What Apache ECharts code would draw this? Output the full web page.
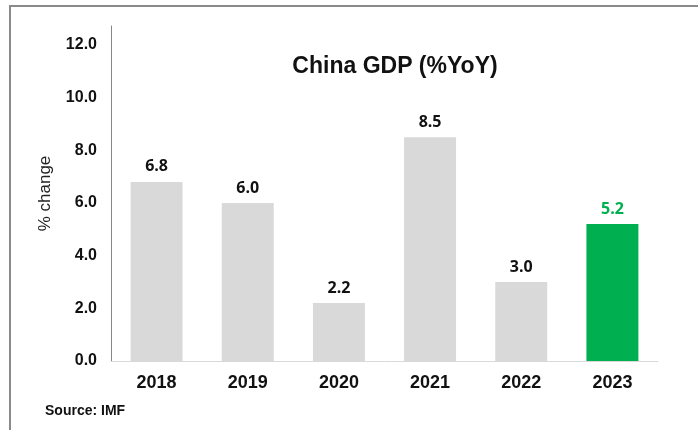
<!DOCTYPE html>
<html>
<head>
<meta charset="utf-8">
<script src="https://cdn.jsdelivr.net/npm/echarts@6/dist/echarts.min.js"></script>
<style>html,body{margin:0;padding:0;background:#fff;}#c{width:698px;height:430px;}</style>
</head>
<body>
<div id="c"></div>
<script>
const categories = ['2018', '2019', '2020', '2021', '2022', '2023'];
const gdpValues = [6.8, 6.0, 2.2, 8.5, 3.0, 5.2];
const yTickLabels = [0, 2, 4, 6, 8, 10, 12];
const highlightYear = '2023';

const chart = echarts.init(document.getElementById('c'), null, {renderer: 'canvas'});
const data = gdpValues.map((v, i) => {
  const hi = categories[i] === highlightYear;
  return {
    value: v,
    itemStyle: {color: hi ? '#00b050' : '#d9d9d9'},
    label: {color: hi ? '#00b050' : '#111'}
  };
});
chart.setOption({
  animation: false,
  backgroundColor: '#fff',
  title: {
    text: 'China GDP (%YoY)',
    left: 390, top: 50, textAlign: 'center',
    textStyle: {fontFamily: 'Liberation Sans, Arial', fontSize: 23, fontWeight: 'bold', color: '#111'}
  },
  grid: {left: 111, right: 40, top: 26, bottom: 69, containLabel: false},
  xAxis: {
    type: 'category',
    data: categories,
    axisLine: {lineStyle: {color: '#d9d9d9', width: 1}},
    axisTick: {show: false},
    axisLabel: {margin: 13, fontFamily: 'Liberation Sans, Arial', fontSize: 18, fontWeight: 'bold', color: '#111'}
  },
  yAxis: {
    type: 'value',
    min: 0, max: 12.72, interval: 2,
    name: '% change',
    nameLocation: 'middle',
    nameGap: 57,
    nameTextStyle: {fontFamily: 'Liberation Sans, Arial', fontSize: 17, color: '#222', padding: [0, 0, 0, 0]},
    axisLine: {show: true, lineStyle: {color: '#868686', width: 1}},
    axisTick: {show: false},
    splitLine: {show: false},
    axisLabel: {
      customValues: yTickLabels,
      margin: 14,
      fontFamily: 'Liberation Sans, Arial', fontSize: 16, fontWeight: 'bold', color: '#111',
      formatter: v => v.toFixed(1)
    }
  },
  series: [{
    type: 'bar',
    data: data,
    barWidth: '57%',
    label: {
      show: true, position: 'top', distance: 7,
      fontFamily: 'Open Sans, Liberation Sans', fontSize: 16, fontWeight: 'bold',
      formatter: p => p.value.toFixed(1)
    }
  }],
  graphic: [
    {type: 'line', shape: {x1: 10, y1: 5, x2: 10, y2: 430}, style: {stroke: '#8a8a8a', lineWidth: 2}},
    {type: 'line', shape: {x1: 9, y1: 6, x2: 698, y2: 6}, style: {stroke: '#8a8a8a', lineWidth: 2}},
    {type: 'text', left: 45, top: 404, style: {text: 'Source: IMF', font: 'bold 14px "Liberation Sans", Arial', fill: '#111'}}
  ]
});
</script>
</body>
</html>
